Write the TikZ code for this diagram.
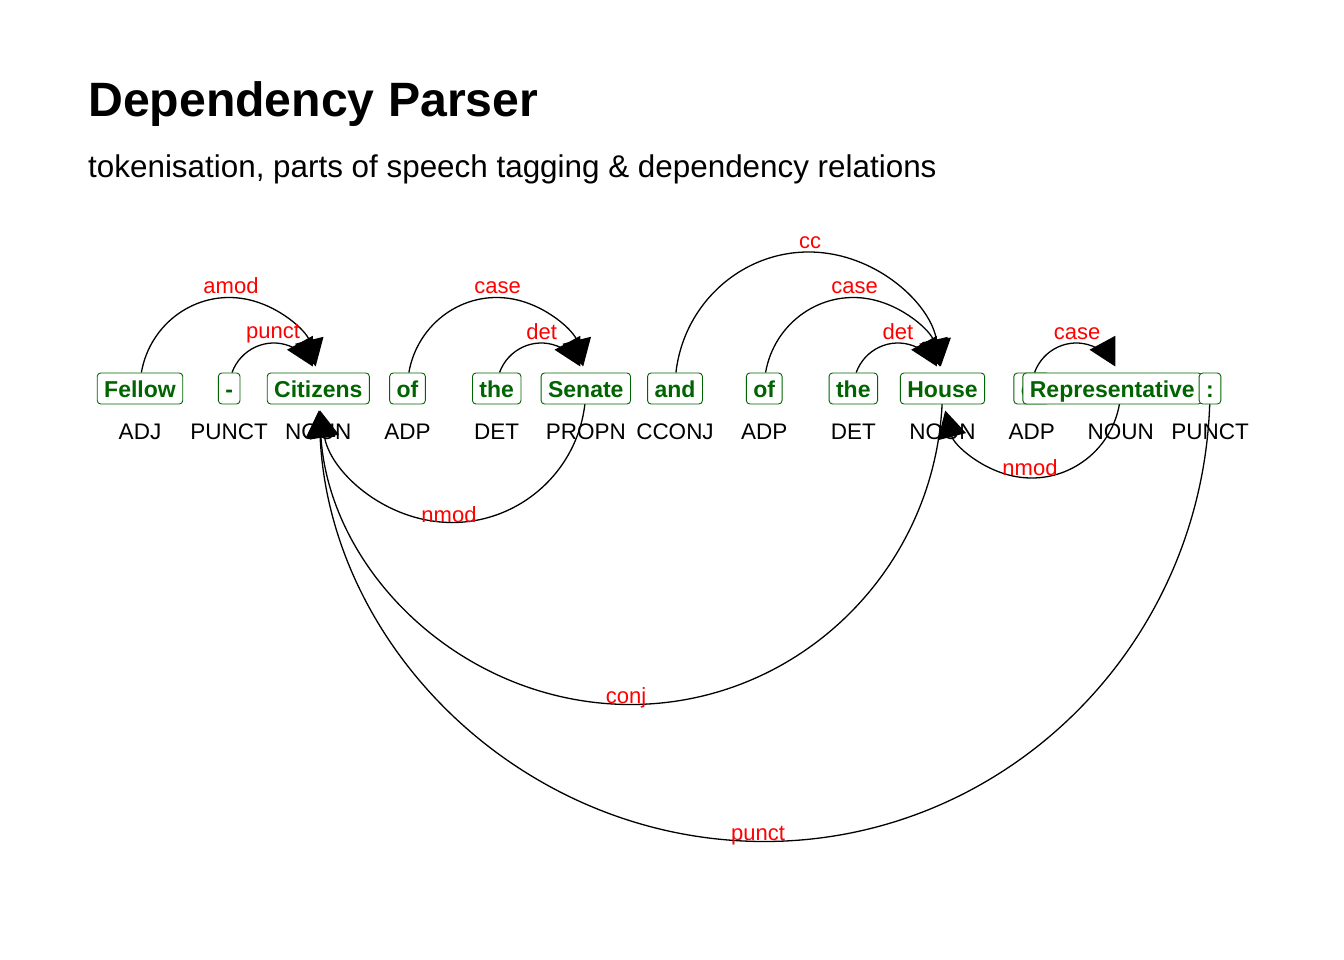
\documentclass[tikz,border=0pt]{standalone}
\usepackage{fontspec}
\setmainfont{Liberation Sans}
\usetikzlibrary{arrows.meta,calc}
\definecolor{wordgreen}{RGB}{0,100,0}
% arc above: #1 from coord (left), #2 to coord (right), #3 x radius, #4 y radius
\newcommand\deparcup[4]{%
  \pgfmathsetmacro\arcsa{180-asin(16/#4)}%
  \pgfmathsetmacro\arcea{asin(22/#4)}%
  \draw[deparc] ($(#1)!0.5!(#2)$) ++(\arcsa:#3pt and #4pt)
    arc[start angle=\arcsa, end angle=\arcea, x radius=#3pt, y radius=#4pt];}
% arc below: #1 from coord (right), #2 to coord (left)
\newcommand\deparcdown[4]{%
  \pgfmathsetmacro\arcsa{-asin(15.5/#4)}%
  \pgfmathsetmacro\arcea{-180+asin(22/#4)}%
  \draw[deparc] ($(#1)!0.5!(#2)$) ++(\arcsa:#3pt and #4pt)
    arc[start angle=\arcsa, end angle=\arcea, x radius=#3pt, y radius=#4pt];}
\begin{document}
\begin{tikzpicture}[x=1pt,y=1pt,
  wordbox/.style={draw=wordgreen, fill=white, rounded corners=3.5pt, line width=0.9pt,
    text=wordgreen, font=\fontsize{23}{27}\selectfont\bfseries,
    inner xsep=7pt, inner ysep=0pt, minimum height=31pt, text height=18.4pt, text depth=0pt},
  postag/.style={font=\fontsize{22.5}{27}\selectfont, anchor=base, inner sep=0pt},
  rellabel/.style={text=red, font=\fontsize{22}{26}\selectfont, anchor=base, inner sep=0pt},
  deparc/.style={line width=1.3pt, -{Triangle[length=27pt,width=29pt]}},
  ttlstyle/.style={font=\fontsize{48.2}{56}\selectfont\bfseries, anchor=base west, inner sep=0pt},
  substyle/.style={font=\fontsize{31.4}{38}\selectfont, anchor=base west, inner sep=0pt},
]
\fill[white] (0,0) rectangle (1344,-960);
\useasboundingbox (0,0) rectangle (1344,-960);

\node[ttlstyle] (ttl) at (88,-117) {Dependency Parser};
\node[substyle] (sub) at (88,-177.5) {tokenisation, parts of speech tagging \& dependency relations};

% token centres
\foreach \i/\x in {1/140,2/229.2,3/318.3,4/407.5,5/496.7,6/585.8,7/675,8/764.2,9/853.3,10/942.5,11/1031.7,12/1120.8,13/1210}
  \coordinate (c\i) at (\x,-388.5);

% POS tags
\foreach \i/\t in {1/ADJ,2/PUNCT,3/NOUN,4/ADP,5/DET,6/PROPN,7/CCONJ,8/ADP,9/DET,10/NOUN,11/ADP,12/NOUN,13/PUNCT}
  \node[postag] (p\i) at ($(c\i)+(0,-51)$) {\t};

% arcs above
\deparcup{c1}{c3}{89.17}{91}
\deparcup{c2}{c3}{44.58}{45.5}
\deparcup{c4}{c6}{89.17}{91}
\deparcup{c5}{c6}{44.58}{45.5}
\deparcup{c7}{c10}{133.75}{136.5}
\deparcup{c8}{c10}{89.17}{91}
\deparcup{c9}{c10}{44.58}{45.5}
\deparcup{c11}{c12}{44.58}{45.5}
% arcs below
\deparcdown{c6}{c3}{133.75}{134}
\deparcdown{c10}{c3}{312.08}{316}
\deparcdown{c12}{c10}{89.17}{89.5}
\deparcdown{c13}{c3}{445.83}{453}

% word boxes
\node[wordbox] (w1) at (c1) {Fellow};
\node[wordbox] (w2) at (c2) {-};
\node[wordbox] (w3) at (c3) {Citizens};
\node[wordbox] (w4) at (c4) {of};
\node[wordbox] (w5) at (c5) {the};
\node[wordbox] (w6) at (c6) {Senate};
\node[wordbox] (w7) at (c7) {and};
\node[wordbox] (w8) at (c8) {of};
\node[wordbox] (w9) at (c9) {the};
\node[wordbox] (w10) at (c10) {House};
\node[wordbox] (w11) at (c11) {of};
\node[wordbox] (w12) at ($(c12)+(-8.5,0)$) {Representative};
\node[wordbox] (w13) at (c13) {:};

% relation labels
\node[rellabel] (r1) at (231,-293) {amod};
\node[rellabel] (r2) at (273,-338) {punct};
\node[rellabel] (r3) at (497.5,-293) {case};
\node[rellabel] (r4) at (541.7,-339) {det};
\node[rellabel] (r5) at (810,-248) {cc};
\node[rellabel] (r6) at (854.5,-293) {case};
\node[rellabel] (r7) at (898,-339) {det};
\node[rellabel] (r8) at (1077,-339) {case};
\node[rellabel] (r9) at (449,-522) {nmod};
\node[rellabel] (r10) at (626,-703) {conj};
\node[rellabel] (r11) at (1030,-475) {nmod};
\node[rellabel] (r12) at (758,-840) {punct};
\end{tikzpicture}
\end{document}
